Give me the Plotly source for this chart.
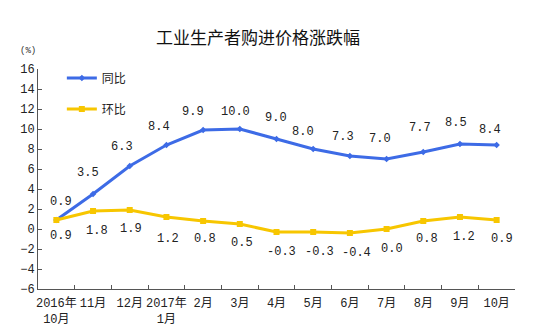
import plotly.graph_objects as go

months = ["2016年<br>10月", "11月", "12月", "2017年<br>1月", "2月", "3月", "4月",
          "5月", "6月", "7月", "8月", "9月", "10月"]
yoy = [0.9, 3.5, 6.3, 8.4, 9.9, 10.0, 9.0, 8.0, 7.3, 7.0, 7.7, 8.5, 8.4]
mom = [0.9, 1.8, 1.9, 1.2, 0.8, 0.5, -0.3, -0.3, -0.4, 0.0, 0.8, 1.2, 0.9]
yticks = list(range(-6, 17, 2))

# label offsets (pixels) - style only
yoy_dx = [5, -5, -8, -7, -10, -4, -1, -10, -7, -7, -3, -4, -7]
yoy_dy = [18, 21, 19, 18, 18, 17, 21, 17, 19, 20, 24, 21, 15]
mom_dx = [5, 4, 1, 2, 2, 2, 5, 6, 7, 5, 4, 4, 5]
mom_dy = [-16, -20, -19, -22, -18, -19, -20, -20, -20, -20, -18, -20, -19]

BLUE = "#3D6BE6"
YELLOW = "#F7C600"
NUMFONT = "Liberation Mono, Noto Sans CJK SC"

fig = go.Figure()
fig.add_trace(go.Scatter(x=months, y=yoy, name="同比", mode="lines+markers",
                         line=dict(color=BLUE, width=3),
                         marker=dict(color=BLUE, size=5, symbol="diamond"),
                         legendgroup="a"))
fig.add_trace(go.Scatter(x=months, y=mom, name="环比", mode="lines+markers",
                         line=dict(color=YELLOW, width=3),
                         marker=dict(color=YELLOW, size=6, symbol="square"),
                         legendgroup="b"))

anns = []
for i, m in enumerate(months):
    anns.append(dict(x=m, y=yoy[i], text=f"{yoy[i]:.1f}", showarrow=False,
                     xshift=yoy_dx[i], yshift=yoy_dy[i],
                     font=dict(family=NUMFONT, size=12, color="#222")))
    anns.append(dict(x=m, y=mom[i], text=f"{mom[i]:.1f}", showarrow=False,
                     xshift=mom_dx[i], yshift=mom_dy[i],
                     font=dict(family=NUMFONT, size=12, color="#222")))
anns.append(dict(xref="paper", yref="paper", x=-0.02, y=1.08, text="(%)",
                 showarrow=False, font=dict(family=NUMFONT, size=9, color="#333"),
                 xanchor="center", yanchor="middle"))
fig.update_layout(annotations=anns)

fig.update_layout(
    width=533, height=334,
    margin=dict(l=38, r=18, t=69, b=45, autoexpand=False),
    paper_bgcolor="white", plot_bgcolor="white",
    title=dict(text="工业生产者购进价格涨跌幅", x=0.484, xanchor="center",
               y=1 - 38 / 334, yanchor="middle",
               font=dict(family="Noto Sans CJK SC", size=17, color="#111")),
    showlegend=True,
    legend=dict(x=0.05, y=1.025, xanchor="left", yanchor="top",
                font=dict(family="Noto Sans CJK SC", size=12, color="#222"),
                bgcolor="rgba(0,0,0,0)", tracegroupgap=12, itemwidth=30,
                traceorder="grouped"),
    xaxis=dict(type="category", showline=True, linecolor="#555", linewidth=1,
               ticks="inside", ticklen=4, tickcolor="#555", tickson="boundaries",
               showgrid=False, zeroline=False, tickangle=0, automargin=False,
               ticklabelstandoff=3,
               tickfont=dict(family=NUMFONT, size=12, color="#222"),
               range=[-0.5, len(months) - 0.5]),
    yaxis=dict(range=[-6, 16], tickvals=yticks, showline=True, linecolor="#555",
               linewidth=1, ticks="inside", ticklen=4, tickcolor="#555",
               showgrid=False, zeroline=False, automargin=False,
               tickfont=dict(family=NUMFONT, size=12, color="#222")),
)

fig.write_html("out.html")
